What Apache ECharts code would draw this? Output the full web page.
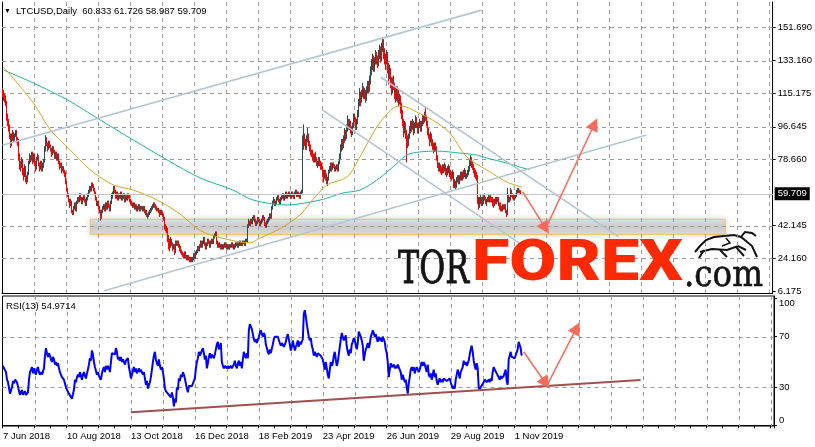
<!DOCTYPE html>
<html><head><meta charset="utf-8">
<script src="https://cdn.jsdelivr.net/npm/echarts@6/dist/echarts.min.js"></script>
<style>html,body{margin:0;padding:0;background:#fff}#c{width:815px;height:447px}</style>
</head><body><div id="c"></div>
<script>
// ---------- DATA ----------
const symbolTitle = 'LTCUSD,Daily  60.833 61.726 58.987 59.709';
const rsiTitle = 'RSI(13) 54.9714';
const startDate = [2018, 5, 7];      // 7 Jun 2018
const totalSlots = 772;              // bars visible incl. right shift
const dateTickLabels = ['7 Jun 2018','10 Aug 2018','13 Oct 2018','16 Dec 2018','18 Feb 2019','23 Apr 2019','26 Jun 2019','29 Aug 2019','1 Nov 2019'];
const priceTicks = [151.690,133.160,115.175,96.645,78.660,42.145,24.160,6.175];
const lastPrice = 59.709;
const rsiTicks = [70,30];

const opens = [117,115,113,112,110,102,99,97,92,88,91,93,90,92,94,90,89,80,76,75,78,72,70,74,68,67,71,77,80,79,82,78,81,77,74,79,80,76,74,77,73,75,78,84,90,87,85,88,86,84,82,85,83,80,82,79,81,77,75,76,73,74,72,71,66,62,59,56,54,55,50,49,52,54,51,55,57,56,59,57,55,57,58,56,54,57,59,61,63,62,65,64,62,60,57,54,55,52,50,47,50,52,53,51,54,52,55,53,51,55,58,60,63,61,58,60,57,59,58,60,57,58,59,56,58,57,59,58,56,55,54,53,54,52,53,51,52,53,51,52,52,51,52,50,49,50,48,48,49,50,51,52,53,54,53,52,51,51,50,49,50,49,48,46,42,41,40,35,33,31,34,32,30,31,28,33,32,33,31,30,28,27,26,25,27,25,24,25,24,23,24,23,24,26,25,27,28,30,29,31,33,31,33,35,32,30,32,34,33,31,33,34,33,36,37,38,33,31,32,31,30,31,30,31,32,31,30,31,30,31,31,32,31,30,31,32,32,31,32,33,32,32,33,33,32,34,34,42,44,43,45,44,46,47,45,43,44,46,45,43,44,45,47,46,43,42,44,45,46,48,47,52,55,56,54,55,57,58,56,55,57,58,59,57,58,60,58,59,60,59,58,60,59,58,60,61,59,60,59,58,60,61,86,90,88,86,90,92,88,85,83,82,80,79,81,78,76,77,79,76,75,74,71,70,72,69,67,68,72,74,75,74,76,75,73,74,75,73,77,80,85,88,86,90,94,91,96,100,97,99,95,94,98,102,101,97,100,104,110,114,112,115,118,114,116,112,117,120,118,122,128,131,134,129,133,136,134,132,137,139,135,141,144,138,135,133,137,130,126,128,122,118,122,120,116,113,117,114,111,112,108,104,100,96,98,93,91,88,92,95,98,96,99,94,97,101,98,95,97,99,96,98,101,100,103,102,99,94,92,89,92,88,86,84,87,85,80,76,74,75,73,72,74,73,75,72,71,73,74,71,70,69,71,65,66,64,67,68,66,69,70,68,71,70,72,69,70,71,73,77,79,76,74,72,71,70,69,56,54,56,57,55,56,58,57,55,56,57,56,58,57,56,55,54,56,55,57,56,54,53,52,51,53,52,53,50,49,58,56,57,61,59,58,57,58,59,61,62,61,60.833];
const closes = [115,113,112,110,102,99,97,92,88,91,93,90,92,94,90,89,80,76,75,78,72,70,74,68,67,71,77,80,79,82,78,81,77,74,79,80,76,74,77,73,75,78,84,90,87,85,88,86,84,82,85,83,80,82,79,81,77,75,76,73,74,72,71,66,62,59,56,54,55,50,49,52,54,51,55,57,56,59,57,55,57,58,56,54,57,59,61,63,62,65,64,62,60,57,54,55,52,50,47,50,52,53,51,54,52,55,53,51,55,58,60,63,61,58,60,57,59,58,60,57,58,59,56,58,57,59,58,56,55,54,53,54,52,53,51,52,53,51,52,52,51,52,50,49,50,48,48,49,50,51,52,53,54,53,52,51,51,50,49,50,49,48,46,42,41,40,35,33,31,34,32,30,31,28,33,32,33,31,30,28,27,26,25,27,25,24,25,24,23,24,23,24,26,25,27,28,30,29,31,33,31,33,35,32,30,32,34,33,31,33,34,33,36,37,38,33,31,32,31,30,31,30,31,32,31,30,31,30,31,31,32,31,30,31,32,32,31,32,33,32,32,33,33,32,34,34,42,44,43,45,44,46,47,45,43,44,46,45,43,44,45,47,46,43,42,44,45,46,48,47,52,55,56,54,55,57,58,56,55,57,58,59,57,58,60,58,59,60,59,58,60,59,58,60,61,59,60,59,58,60,61,86,90,88,86,90,92,88,85,83,82,80,79,81,78,76,77,79,76,75,74,71,70,72,69,67,68,72,74,75,74,76,75,73,74,75,73,77,80,85,88,86,90,94,91,96,100,97,99,95,94,98,102,101,97,100,104,110,114,112,115,118,114,116,112,117,120,118,122,128,131,134,129,133,136,134,132,137,139,135,141,144,138,135,133,137,130,126,128,122,118,122,120,116,113,117,114,111,112,108,104,100,96,98,93,91,88,92,95,98,96,99,94,97,101,98,95,97,99,96,98,101,100,103,102,99,94,92,89,92,88,86,84,87,85,80,76,74,75,73,72,74,73,75,72,71,73,74,71,70,69,71,65,66,64,67,68,66,69,70,68,71,70,72,69,70,71,73,77,79,76,74,72,71,70,69,56,54,56,57,55,56,58,57,55,56,57,56,58,57,56,55,54,56,55,57,56,54,53,52,51,53,52,53,50,49,58,56,57,61,59,58,57,58,59,61,62,61,60.833,59.709];
const highs = [118,117,115,114,111,104,101,98,93,93,95,94,93,95,95,91,90,82,78,80,79,74,76,75,70,72,78,82,81,83,83,82,82,78,80,82,81,77,78,78,77,79,86,92,91,88,89,89,87,85,86,86,84,83,83,82,82,78,77,77,75,75,73,72,67,63,60,57,57,56,51,53,55,55,56,58,58,60,60,58,58,59,59,57,58,60,62,64,64,66,66,65,63,61,58,56,56,53,51,51,53,54,54,55,55,56,56,54,56,60,61,64,64,62,61,61,60,60,61,61,59,60,60,59,59,60,60,59,57,56,55,55,55,54,54,53,54,54,53,53,53,53,53,51,51,51,49,50,51,52,53,54,55,55,54,53,52,52,51,51,51,50,49,47,43,42,41,37,35,36,35,33,32,32,34,34,34,34,32,31,29,28,27,28,28,26,26,26,25,25,25,25,27,27,28,29,31,31,32,34,34,34,36,36,33,33,35,35,34,34,35,35,37,38,39,39,34,33,33,32,32,32,32,33,33,32,32,32,32,32,33,33,32,32,33,33,33,33,34,34,33,34,34,34,35,35,43,46,45,46,46,47,48,48,46,45,47,47,46,45,46,48,48,47,44,45,46,47,49,49,53,56,58,57,56,58,59,59,57,58,59,60,60,59,61,61,60,61,61,60,61,61,60,61,62,62,61,61,60,61,62,92,98,93,90,92,96,93,89,87,84,84,82,82,83,80,78,80,80,78,77,75,73,73,73,71,69,73,75,77,77,77,77,76,75,76,76,78,82,87,90,90,92,96,95,98,103,101,101,100,97,99,104,104,102,101,106,112,118,116,117,121,119,118,117,119,122,122,125,130,134,137,136,135,139,138,136,139,142,141,143,146,145,140,137,139,138,132,131,129,124,124,125,121,119,119,119,117,115,114,110,106,101,100,99,95,92,93,97,100,100,101,100,99,103,102,99,99,101,100,100,103,103,105,107,103,100,96,93,94,93,90,88,88,88,86,81,77,77,76,75,76,76,77,76,74,75,76,75,73,72,73,72,68,67,69,70,70,70,72,72,72,73,74,73,71,73,75,79,81,80,78,76,74,73,72,70,58,58,59,58,58,59,60,58,57,58,59,59,59,58,58,57,57,58,58,58,58,55,55,53,54,54,54,54,51,63,59,58,63,62,60,59,59,60,62,63,63,62,61.726];
const lows = [113,111,110,108,100,97,94,90,85,86,89,88,89,91,88,86,78,73,72,74,70,67,69,66,65,66,70,76,77,78,76,77,75,72,73,78,75,72,73,72,72,74,77,83,86,83,84,85,83,80,81,82,79,79,78,78,76,73,74,71,72,71,69,65,61,58,55,52,53,49,48,48,51,50,50,54,55,55,56,54,54,56,55,53,53,56,58,60,61,61,63,61,59,56,53,53,51,49,45,46,49,51,50,50,51,51,52,50,50,54,57,59,60,57,57,56,56,57,57,56,56,57,55,55,56,56,57,55,54,53,52,52,51,51,50,50,51,50,50,51,50,50,49,48,48,47,46,47,48,49,50,51,52,52,51,50,50,49,47,48,48,47,45,40,39,38,33,29,28,30,31,28,29,26,27,31,31,30,28,27,26,25,24,24,24,23,23,23,22,22,22,22,23,24,24,26,27,28,28,30,30,30,32,31,29,29,31,32,30,30,32,32,32,35,36,32,30,30,30,29,29,29,29,30,30,29,29,29,29,30,30,30,29,29,30,31,30,30,31,31,31,31,32,31,31,33,33,41,42,42,43,43,45,44,42,42,43,44,42,42,43,44,45,42,41,41,43,44,45,46,46,51,54,53,53,54,56,55,54,54,56,57,56,56,57,57,57,58,58,57,57,58,57,57,59,58,58,58,57,57,59,60,84,86,84,84,88,86,83,81,80,78,77,77,77,75,74,75,75,73,73,69,66,68,67,65,64,67,71,72,72,73,74,72,72,73,72,72,76,79,83,84,85,88,89,90,94,95,95,93,91,92,96,99,95,95,98,102,108,108,110,113,112,112,110,111,115,115,116,120,125,128,127,127,131,131,129,130,134,132,133,138,134,131,128,131,126,120,123,118,114,115,117,112,110,111,110,108,109,104,101,97,91,93,90,77,85,86,90,93,94,95,92,93,96,96,93,93,96,94,94,97,98,99,100,97,92,90,86,88,86,84,82,83,83,78,74,72,72,71,70,71,71,72,70,69,70,71,69,68,67,68,63,63,62,63,66,65,65,67,67,67,68,69,68,68,69,70,72,75,74,73,71,69,68,67,54,51,52,54,53,53,54,56,54,53,55,55,55,55,55,53,52,53,54,54,55,53,51,50,50,50,51,51,49,47,48,55,55,56,58,57,56,56,57,58,60,60,60,58.987];
const rsi = [47,45,44,42,36,34,33,25,24,30,35,33,36,37,34,33,27,24,23,28,24,23,27,24,23,26,36,42,41,46,41,45,42,40,44,46,42,40,42,40,41,45,55,61,57,54,57,55,52,50,54,52,48,50,47,49,45,42,43,38,39,36,35,30,28,27,25,24,26,21,20,28,36,34,38,40,38,42,39,36,40,42,39,37,41,44,48,53,51,59,56,50,46,43,40,42,39,38,36,41,44,46,42,47,44,47,45,42,50,57,57,58,56,61,58,52,54,51,54,50,52,53,48,51,50,53,46,42,37,40,43,46,42,45,41,43,45,42,44,44,40,42,37,32,35,29,30,34,38,44,50,55,58,52,49,47,52,47,44,46,42,37,29,27,26,27,24,23,22,26,22,15,21,18,30,28,37,35,40,38,42,40,37,33,29,26,31,30,31,31,30,32,37,45,50,53,58,55,57,56,61,57,52,55,45,49,54,57,53,56,57,53,56,60,64,66,60,62,65,50,47,45,47,46,45,47,45,46,47,45,46,48,51,47,45,49,51,47,50,45,52,58,55,53,57,53,75,80,78,76,72,68,66,68,65,66,70,73,75,72,70,73,71,64,61,58,56,60,57,56,64,68,70,69,71,70,69,65,63,65,64,62,63,66,70,72,68,64,59,62,67,63,59,62,64,67,62,66,64,65,68,88,91,86,80,75,70,67,69,63,60,55,58,59,54,57,56,58,55,54,52,48,44,50,45,40,37,44,50,47,49,55,58,52,47,50,56,62,68,73,70,67,69,71,62,58,55,60,57,64,66,69,67,63,60,65,74,72,70,67,63,51,56,60,62,65,61,64,70,72,75,73,70,72,68,66,70,67,69,66,70,68,66,60,57,50,38,44,49,46,47,48,45,47,45,48,46,44,42,36,40,37,34,36,30,25,33,38,44,46,43,46,41,44,46,45,42,44,47,50,47,50,48,45,42,48,40,38,41,36,40,44,38,41,35,32,35,37,34,36,34,37,36,38,35,34,36,37,34,33,29,31,29,36,40,44,41,37,42,44,46,51,48,50,47,49,51,56,60,63,58,51,47,44,49,45,30,28,30,31,29,34,36,35,34,35,36,34,37,35,42,46,44,43,41,40,38,36,39,37,36,39,38,44,35,32,52,55,58,54,53,54,53,54,54,60,66,65,61,54.9714];

// moving averages: [bar index, value]
const maFast = [[1,129.6],[31,109.8],[48,94.9],[65,85.5],[88,72.9],[111,64.6],[131,61.8],[155,56.3],[178,48.5],[198,39.5],[218,35.6],[238,33.2],[248,32.7],[258,35.4],[278,40.5],[298,48.1],[308,54.7],[325,64.6],[345,69.0],[358,80.0],[375,96.6],[391,107.0],[400,108.1],[415,104.8],[431,100.4],[448,93.3],[465,80.0],[485,72.9],[505,66.3],[520,63.5]];
const maSlow = [[1,128.0],[31,120.8],[65,111.5],[98,100.4],[131,89.4],[165,78.4],[198,68.5],[231,61.8],[251,56.3],[285,53.6],[318,56.3],[341,60.2],[358,61.8],[375,67.3],[391,74.5],[405,81.1],[418,82.8],[435,83.3],[458,82.2],[475,81.1],[485,79.5],[505,76.7],[528,72.9]];

// drawn objects: [bar index, price]
const channelUp = [[0,86.5],[480,161.0]];
const channelLow = [[102,6.3],[645,92.2]];
const downUpper = [[379,124.0],[617,36.1]];
const downLower = [[320,106.1],[520,31.7]];
const supportZone = [[88,45.7],[724,37.43]];
const arrowDown = [[521,60.9],[544,40.7]];
const arrowUp = [[544,40.4],[593,98.2]];
const rsiTrend = [[128,10.2],[638,35.8]];
const rsiArrowDown = [[521,58.1],[543,33.2]];
const rsiArrowUp = [[544,31.0],[574,76.9]];

// vertical grid every 32 bars
const gridBars = [32,64,96,128,160,192,224,256,288,320,352,384,416,448,480,512,544,576,608,640,672,704,736,768];

// ---------- CHART ----------
const MONTHS = ['Jan','Feb','Mar','Apr','May','Jun','Jul','Aug','Sep','Oct','Nov','Dec'];
const categories = [];
for (let i = 0; i < totalSlots; i++) {
  const d = new Date(Date.UTC(startDate[0], startDate[1], startDate[2] + i));
  categories.push(d.getUTCDate() + ' ' + MONTHS[d.getUTCMonth()] + ' ' + d.getUTCFullYear());
}
const candles = closes.map((c, i) => [opens[i], c, lows[i], highs[i]]);
const FONT = '"Liberation Sans", Arial, sans-serif';
const FS = 9.5;
const GRID_COLOR = '#9A9A9A';
const DASH_ON = 4, DASH_OFF = 4;

function seg(pair) { return [{coord: pair[0]}, {coord: pair[1]}]; }

// dashed grid drawn as short solid segments (custom series)
function dashedGridRender(params, api) {
  const cs = params.coordSys;
  const kind = api.value(2);
  const kids = [];
  if (kind === 0) { // horizontal at value
    const y = Math.round(api.coord([0, api.value(1)])[1]) + 0.5;
    for (let x = cs.x; x < cs.x + cs.width; x += DASH_ON + DASH_OFF) {
      kids.push({type: 'line', shape: {x1: x, y1: y, x2: Math.min(x + DASH_ON, cs.x + cs.width), y2: y}, style: {stroke: GRID_COLOR, lineWidth: 1}});
    }
  } else { // vertical at bar
    const x = Math.round(api.coord([api.value(0), 0])[0]) + 0.5;
    for (let y = cs.y; y < cs.y + cs.height; y += DASH_ON + DASH_OFF) {
      kids.push({type: 'line', shape: {x1: x, y1: y, x2: x, y2: Math.min(y + DASH_ON, cs.y + cs.height)}, style: {stroke: GRID_COLOR, lineWidth: 1}});
    }
  }
  return {type: 'group', children: kids, silent: true};
}

const mc = document.createElement('canvas').getContext('2d');
function fitScale(text, font, width) { mc.font = font; return width / mc.measureText(text).width; }
const fTor = '44px "DejaVu Serif Condensed", "DejaVu Serif", serif';
const fForex = '900 58px Roboto, "Open Sans", sans-serif';
const fCom = '38px "DejaVu Serif Condensed", "DejaVu Serif", serif';

const chart = echarts.init(document.getElementById('c'), null, {renderer: 'canvas', width: 815, height: 447});
chart.setOption({
  animation: false,
  backgroundColor: '#fff',
  grid: [
    {left: 2, right: 41, top: 2, height: 291, show: false},
    {left: 2, right: 41, top: 296, height: 130, show: true, borderColor: '#000', borderWidth: 1, backgroundColor: 'transparent'}
  ],
  xAxis: [
    {gridIndex: 0, type: 'category', data: categories, boundaryGap: true,
     axisLine: {show: true, lineStyle: {color: '#000', width: 1}}, axisTick: {show: false}, axisLabel: {show: false},
     splitLine: {show: false}},
    {gridIndex: 1, type: 'category', data: categories, boundaryGap: true,
     axisLine: {show: true, lineStyle: {color: '#000', width: 1}},
     axisTick: {show: true, interval: (i) => i % 16 === 0, length: 3, lineStyle: {color: '#000'}},
     axisLabel: {show: true, interval: (i) => i % 64 === 0 && i < closes.length,
       formatter: (v) => { const k = categories.indexOf(v) / 64; return dateTickLabels[k] || v; },
       align: 'left', color: '#000', fontFamily: FONT, fontSize: FS, margin: 5, hideOverlap: false},
     splitLine: {show: false}}
  ],
  yAxis: [
    {gridIndex: 0, type: 'value', position: 'right', min: 5.073, max: 165.47,
     axisLine: {show: true, lineStyle: {color: '#000'}},
     axisTick: {show: true, customValues: priceTicks, length: 3, lineStyle: {color: '#000'}},
     axisLabel: {show: true, customValues: priceTicks, formatter: (v) => v.toFixed(3), color: '#000', fontFamily: FONT, fontSize: FS, margin: 5},
     splitLine: {show: false}},
    {gridIndex: 0, type: 'value', position: 'left', min: 5.073, max: 165.47,
     axisLine: {show: true, onZero: false, lineStyle: {color: '#000'}}, axisTick: {show: false}, axisLabel: {show: false}, splitLine: {show: false}},
    {gridIndex: 1, type: 'value', position: 'right', min: -0.59, max: 102.17,
     axisLine: {show: true, lineStyle: {color: '#000'}},
     axisTick: {show: true, customValues: [0, 30, 70, 100], length: 3, lineStyle: {color: '#000'}},
     axisLabel: {show: true, customValues: rsiTicks, color: '#000', fontFamily: FONT, fontSize: FS, margin: 5},
     splitLine: {show: false}},
    {gridIndex: 1, type: 'value', position: 'right', min: -0.59, max: 102.17,
     axisLine: {show: false}, axisTick: {show: false},
     axisLabel: {show: true, customValues: [100], verticalAlign: 'top', color: '#000', fontFamily: FONT, fontSize: FS, margin: 5},
     splitLine: {show: false}},
    {gridIndex: 1, type: 'value', position: 'right', min: -0.59, max: 102.17,
     axisLine: {show: false}, axisTick: {show: false},
     axisLabel: {show: true, customValues: [0], verticalAlign: 'bottom', color: '#000', fontFamily: FONT, fontSize: FS, margin: 5},
     splitLine: {show: false}}
  ],
  series: [
    {name: 'gridPrice', type: 'custom', xAxisIndex: 0, yAxisIndex: 0, z: 1, silent: true, clip: false,
     renderItem: dashedGridRender,
     data: priceTicks.filter(v => v > 7).map(v => [0, v, 0]).concat(gridBars.map(b => [b, 0, 1]))},
    {name: 'gridRsi', type: 'custom', xAxisIndex: 1, yAxisIndex: 2, z: 1, silent: true, clip: false,
     renderItem: dashedGridRender,
     data: rsiTicks.map(v => [0, v, 0]).concat(gridBars.map(b => [b, 0, 1]))},
    {name: 'bid', type: 'line', xAxisIndex: 0, yAxisIndex: 0, data: [], z: 1, silent: true,
     markLine: {silent: true, symbol: 'none', lineStyle: {color: '#C4C4C4', type: 'solid', width: 1},
       label: {show: true, position: 'end', formatter: lastPrice.toFixed(3), backgroundColor: '#000', color: '#fff',
         fontFamily: FONT, fontSize: FS, padding: [2, 3, 1, 3], distance: 2},
       data: [{yAxis: lastPrice}]}},
    {name: 'LTCUSD', type: 'candlestick', xAxisIndex: 0, yAxisIndex: 0, data: candles, z: 2, barWidth: 1,
     itemStyle: {color: '#2F4F4F', color0: '#FF0000', borderColor: '#2F4F4F', borderColor0: '#FF0000', borderWidth: 1}},
    {name: 'MA slow', type: 'line', xAxisIndex: 0, yAxisIndex: 0, data: maSlow, z: 3, symbol: 'none', smooth: 0.3,
     lineStyle: {color: '#20B2AA', width: 1}},
    {name: 'MA fast', type: 'line', xAxisIndex: 0, yAxisIndex: 0, data: maFast, z: 3, symbol: 'none', smooth: 0.3,
     lineStyle: {color: '#DAA520', width: 1}},
    {name: 'zone', type: 'line', xAxisIndex: 0, yAxisIndex: 0, data: [], z: 4, silent: true,
     markArea: {silent: true,
       itemStyle: {color: {type: 'linear', x: 0, y: 0, x2: 0, y2: 1, colorStops: [
         {offset: 0, color: 'rgba(232,232,232,0.75)'}, {offset: 0.5, color: 'rgba(198,198,198,0.78)'}, {offset: 1, color: 'rgba(224,224,224,0.75)'}]},
         borderColor: '#F0C250', borderWidth: 1, shadowBlur: 6, shadowColor: 'rgba(0,0,0,0.2)'},
       data: [seg(supportZone)]}},
    {name: 'trend', type: 'line', xAxisIndex: 0, yAxisIndex: 0, data: [], z: 5, silent: true,
     markLine: {silent: true, symbol: 'none', label: {show: false},
       lineStyle: {color: '#B3C6D4', width: 1.6, type: 'solid'},
       data: [seg(channelUp), seg(channelLow), seg(downUpper), seg(downLower)]}},
    {name: 'arrows', type: 'line', xAxisIndex: 0, yAxisIndex: 0, data: [], z: 6, silent: true,
     markLine: {silent: true, symbol: ['none', 'triangle'], symbolSize: 13, label: {show: false},
       lineStyle: {color: '#FA6A5C', width: 1.5, type: 'solid'},
       data: [seg(arrowDown), seg(arrowUp)]}},
    {name: 'RSI', type: 'line', xAxisIndex: 1, yAxisIndex: 2, data: rsi, z: 3, symbol: 'none',
     lineStyle: {color: '#0000FF', width: 2}},
    {name: 'rsiTrend', type: 'line', xAxisIndex: 1, yAxisIndex: 2, data: [], z: 4, silent: true,
     markLine: {silent: true, symbol: 'none', label: {show: false},
       lineStyle: {color: '#A0504E', width: 2, type: 'solid'}, data: [seg(rsiTrend)]}},
    {name: 'rsiArrows', type: 'line', xAxisIndex: 1, yAxisIndex: 2, data: [], z: 6, silent: true,
     markLine: {silent: true, symbol: ['none', 'triangle'], symbolSize: 13, label: {show: false},
       lineStyle: {color: '#FA6A5C', width: 1.5, type: 'solid'}, data: [seg(rsiArrowDown), seg(rsiArrowUp)]}}
  ],
  graphic: [
    {type: 'text', x: 4, y: 11, z: 50, style: {text: '▼', font: '7px ' + FONT, fill: '#000', verticalAlign: 'middle'}},
    {type: 'text', x: 16, y: 11, z: 50, style: {text: symbolTitle, font: FS + 'px ' + FONT, fill: '#000', verticalAlign: 'middle'}},
    {type: 'text', x: 6, y: 306, z: 50, style: {text: rsiTitle, font: FS + 'px ' + FONT, fill: '#000', verticalAlign: 'middle'}},
    {type: 'text', x: 398, y: 272, z: 60, scaleX: fitScale('TOR', fTor, 71), style: {text: 'TOR', font: fTor, fill: '#141414', stroke: '#141414', lineWidth: 0.8, verticalAlign: 'middle'}},
    {type: 'text', x: 472, y: 265, z: 60, scaleX: fitScale('FOREX', fForex, 211), style: {text: 'FOREX', font: fForex, fill: '#FF2A00', verticalAlign: 'middle'}},
    {type: 'text', x: 684, y: 276, z: 60, scaleX: fitScale('.com', fCom, 79), style: {text: '.com', font: fCom, fill: '#141414', stroke: '#141414', lineWidth: 0.6, verticalAlign: 'middle'}},
    {type: 'group', z: 60, children: [
      {type: 'polyline', shape: {points: [[695,252],[700,246],[706,240],[714,237],[724,236],[734,235],[741,237],[746,241],[752,246],[757,257]]}, style: {stroke: '#111', lineWidth: 2, fill: null}},
      {type: 'polyline', shape: {points: [[741,237],[745,232],[752,233],[756,236]]}, style: {stroke: '#111', lineWidth: 2, fill: null}},
      {type: 'polyline', shape: {points: [[700,252],[712,249],[727,250],[738,246],[746,250]]}, style: {stroke: '#111', lineWidth: 2, fill: null}},
      {type: 'polyline', shape: {points: [[704,250],[699,258]]}, style: {stroke: '#111', lineWidth: 2}},
      {type: 'polyline', shape: {points: [[720,250],[727,257]]}, style: {stroke: '#111', lineWidth: 2}},
      {type: 'polyline', shape: {points: [[736,247],[744,256]]}, style: {stroke: '#111', lineWidth: 2}},
      {type: 'polyline', shape: {points: [[726,238],[730,243],[722,246]]}, style: {stroke: '#111', lineWidth: 1.5, fill: null}}
    ]}
  ]
});
</script>
</body></html>
